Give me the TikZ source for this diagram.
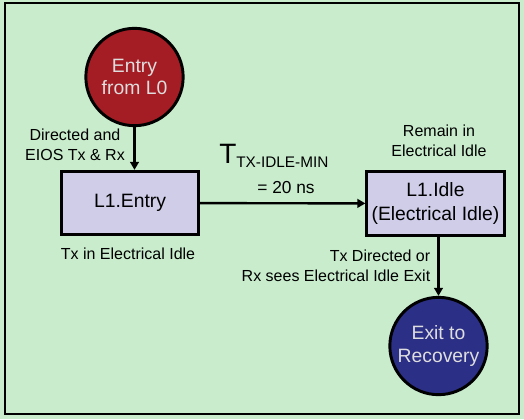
\documentclass[tikz,border=0pt]{standalone}
\usepackage{fontspec}
\setmainfont{Liberation Sans}
\usetikzlibrary{arrows.meta}
\definecolor{bggreen}{RGB}{200,236,204}
\definecolor{boxlilac}{RGB}{207,205,232}
\definecolor{entryred}{RGB}{165,29,36}
\definecolor{exitblue}{RGB}{43,47,133}
\definecolor{circtext}{RGB}{222,222,222}

\begin{document}
\begin{tikzpicture}[x=0.75pt,y=0.75pt,yscale=-1,xscale=1,
    l1box/.style={draw, line width=2.2pt, fill=boxlilac, minimum width=103pt, minimum height=47.5pt, align=center, font=\fontsize{14.5}{18}\selectfont},
    endcirc/.style={circle, draw, line width=2.2pt, minimum size=73pt, inner sep=0pt, align=center, text=circtext, font=\fontsize{14.5}{17}\selectfont},
    note/.style={align=center, inner sep=0pt, font=\fontsize{12}{15}\selectfont},
    flow/.style={line width=1.8pt, -{Triangle[length=6pt,width=6.5pt]}}]
    \useasboundingbox (0,0) rectangle (524,419);
    %background and frame
    \fill [bggreen] (0,0) rectangle (524,419);
    \draw [line width=1.1pt] (5,3) rectangle (519,414);

    %states
    \node [endcirc, fill=entryred] (entry) at (134.5,77) {Entry\\from L0};
    \node [l1box] (l1entry) at (130,203) {L1.Entry};
    \node [l1box] (l1idle) at (435.5,203.5) {L1.Idle\\(Electrical Idle)};
    \node [endcirc, fill=exitblue] (exitrec) at (438.5,346) {Exit to\\Recovery};

    %transitions
    \draw [flow] (entry.south) -- (entry.south |- l1entry.north);
    \draw [flow] (l1entry) -- (l1idle);
    \draw [flow] (l1idle.south -| exitrec.north) -- (exitrec.north);

    %labels
    \node [note] (dirlbl) at (75,145) {Directed and\\EIOS Tx \& Rx};
    \node [note] (txlbl) at (128,254) {Tx in Electrical Idle};
    \node [note] (remlbl) at (439,141) {Remain in\\Electrical Idle};
    \node [note, align=right, anchor=east] (exitlbl) at (430.5,265.5) {Tx Directed or\\Rx sees Electrical Idle Exit};
    \node [inner sep=0pt, anchor=base west] (tmin) at (219,163) {\fontsize{21}{24}\selectfont T\raisebox{-3pt}{\fontsize{11.5}{14}\selectfont TX-IDLE-MIN}};
    \node [inner sep=0pt, anchor=base, font=\fontsize{13}{15}\selectfont] (tval) at (286,193) {= 20 ns};
\end{tikzpicture}
\end{document}
